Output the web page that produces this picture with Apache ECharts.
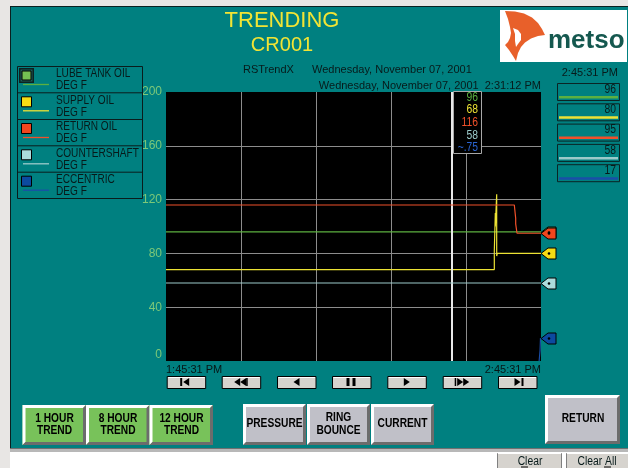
<!DOCTYPE html>
<html><head><meta charset="utf-8">
<script src="https://cdn.jsdelivr.net/npm/echarts@6/dist/echarts.min.js"></script>
<style>html,body{margin:0;padding:0;background:#fff;}#c{width:628px;height:468px;}</style>
</head><body><div id="c"></div>
<script>
// ---------- data ----------
const seriesNames = ['LUBE TANK OIL','SUPPLY OIL','RETURN OIL','COUNTERSHAFT','ECCENTRIC'];
const unitLabel = 'DEG F';
const lineColors = ['#5cb040','#ece234','#f0502a','#9ccaca','#1a4ea8'];
const swatchColors = ['#74c052','#f6dc14','#f0461e','#acdcdc','#0c4aa0'];
// x = minutes after 1:45:31 PM
const lubeTank = [[0,96],[60,96]];
const supplyOil = [[0,68],[52.53,68],[52.53,82],[52.69,110],[52.69,100],[52.91,124],[52.91,78],[53.0,80],[60,80]];
const returnOil = [[0,116],[55.73,116],[55.95,106],[55.95,102],[56.16,101],[56.16,95],[60,95]];
const countershaft = [[0,58],[60,58]];
const eccentric = [[59.7,0],[59.85,8],[59.92,17],[60,17]];
const timeLabels = ['1:45:31 PM','2:45:31 PM'];
const timeSpan = [0,60,12];
const yTicks = [0,40,80,120,160,200];
const cursorTime = 45.68;
const cursorStamp = 'Wednesday, November 07, 2001  2:31:12 PM';
const cursorValues = ['96','68','116','58','~.75'];
const currentValues = [96,80,95,58,17];
const currentTime = '2:45:31 PM';
const titleText = 'TRENDING';
const subTitle = 'CR001';
const headerLeft = 'RSTrendX';
const headerDate = 'Wednesday, November 07, 2001';
const timeButtons = ['1 HOUR\nTREND','8 HOUR\nTREND','12 HOUR\nTREND'];
const viewButtons = ['PRESSURE','RING\nBOUNCE','CURRENT'];

// ---------- chart ----------
const SANS = '"Liberation Sans",Arial,sans-serif';
const chart = echarts.init(document.getElementById('c'), null, {renderer:'canvas'});
const seriesData = [lubeTank, supplyOil, returnOil, countershaft, eccentric];
const drawOrder = [0,3,1,4,2];
chart.setOption({
  backgroundColor:'#008080',
  animation:false,
  grid:{left:166, top:92, width:375, height:269, show:true, backgroundColor:'#000', borderWidth:0},
  xAxis:{type:'value', min:timeSpan[0], max:timeSpan[1], interval:timeSpan[2],
    axisLine:{show:false}, axisTick:{show:false},
    splitLine:{show:true, showMinLine:false, showMaxLine:false, lineStyle:{color:'#8c8c8c', width:1}},
    axisLabel:{formatter:v=> v===timeSpan[0]?timeLabels[0]:(v===timeSpan[1]?timeLabels[1]:''),
      alignMinLabel:'left', alignMaxLabel:'right', margin:3, color:'#061616', fontFamily:'Liberation Sans', fontSize:11}},
  yAxis:{type:'value', min:yTicks[0], max:yTicks[yTicks.length-1], interval:yTicks[1]-yTicks[0],
    axisLine:{show:false}, axisTick:{show:false},
    splitLine:{show:true, showMinLine:false, showMaxLine:false, lineStyle:{color:'#8c8c8c', width:1}},
    axisLabel:{color:'#7cc878', fontFamily:'Liberation Sans', fontSize:12, margin:4, verticalAlignMinLabel:'bottom'}},
  series: drawOrder.map(i=>{
    const s = {type:'line', name:seriesNames[i], data:seriesData[i], showSymbol:false, symbol:'none',
      lineStyle:{color:lineColors[i], width:1.2}, itemStyle:{color:lineColors[i]}, silent:true, z:3+i};
    if(i===0){
      s.markLine = {silent:true, symbol:['none','none'], label:{show:false},
        lineStyle:{color:'#e8e8e8', width:2, type:'solid'}, data:[{xAxis:cursorTime}]};
    }
    return s;
  })
});

// ---------- graphics ----------
const G = [];
function rect(x,y,w,h,fill,stroke,lw,z){G.push({type:'rect',shape:{x:x,y:y,width:w,height:h},style:{fill:fill||'none',stroke:stroke||null,lineWidth:lw||1},z:z||1,silent:true});}
function line(x1,y1,x2,y2,c,lw,z){G.push({type:'line',shape:{x1:x1,y1:y1,x2:x2,y2:y2},style:{stroke:c,lineWidth:lw||1},z:z||1,silent:true});}
function poly(pts,fill,stroke,z){G.push({type:'polygon',shape:{points:pts},style:{fill:fill,stroke:stroke||null,lineWidth:1},z:z||1,silent:true});}
function text(x,y,t,o){
  o = o||{};
  const sx = o.sx||1; delete o.sx;
  const z = o.z||5; delete o.z;
  G.push({type:'text',x:x,y:y,z:z,scaleX:sx,silent:true,style:Object.assign({text:t,fill:'#071a1a',font:'11px '+SANS,textAlign:'left',textVerticalAlign:'middle'},o)});
}
function bevel(x,y,w,h,fill,t){
  rect(x,y,w,h,fill);
  poly([[x,y],[x+w,y],[x+w-t,y+t],[x+t,y+t],[x+t,y+h-t],[x,y+h]],'#ffffff');
  poly([[x+w,y],[x+w,y+h],[x,y+h],[x+t,y+h-t],[x+w-t,y+h-t],[x+w-t,y+t]],'#6c6c6c');
}

// page frame
rect(0,0,10,468,'#e8e6e4',null,1,0);
rect(0,0,628,6,'#e8e6e4',null,1,0);
line(10.5,6,10.5,448,'#0a2020',1);
line(10,6.5,628,6.5,'#0a2020',1);
rect(10,448,618,4,'#b8b8b8');
line(10,448.5,628,448.5,'#707070',1);
rect(10,452,618,16,'#ffffff');

// title
text(282,21,titleText,{fill:'#f2e434',font:'22px '+SANS,textAlign:'center'});
text(282,45,subTitle,{fill:'#f2e434',font:'20px '+SANS,textAlign:'center'});
text(243,70,headerLeft,{});
text(312,70,headerDate,{});
text(541,86,cursorStamp,{textAlign:'right'});

// logo
rect(500,10,127,52,'#ffffff');
poly([[505,11],[515,11.5],[524,13.5],[532,17.5],[538,23],[542,29],[545,35],[538,36],[531,38.5],[525,42.5],[521,47],[518,53],[516,61],[513,56],[509,50],[505,45],[508,42],[510,38],[511,33],[510,27],[508,19]],'#e8602a',null,2);
poly([[513,28],[518,30],[521,34],[521,40],[518,44],[516,47],[515,41],[515,34]],'#ffffff',null,3);
text(548,41,'metso',{fill:'#15584f',font:'bold 26px '+SANS});

// legend
rect(17.5,66.5,125,132,'none','#0a1c1c',1);
const rowTops = [66,92.3,119,145.3,171.7];
for(let i=0;i<5;i++){
  const t = rowTops[i];
  if(i>0) line(17.5,t+0.5,142.5,t+0.5,'#0a1c1c',1);
  if(i===0){
    rect(19,68,15,15,'#0b2222');
    rect(20.5,69.5,12,12,'#1f5a56');
    rect(22,71,9,9,swatchColors[0],'#000',1);
  } else {
    rect(21.5,t+4.5,10,10,swatchColors[i],'#000',1);
  }
  line(23,t+18.5,49,t+18.5,lineColors[i],1.3);
  text(56,t+8,seriesNames[i],{font:'12px '+SANS,sx:0.84});
  text(56,t+20,unitLabel,{font:'12px '+SANS,sx:0.84});
}

// right value boxes
text(618,73,currentTime,{textAlign:'right'});
for(let i=0;i<5;i++){
  const y = 83 + i*20.3;
  rect(557.5,y+0.5,62,17,'#008080','#0a2424',1);
  rect(559,y+13,59,2.5,lineColors[i]);
  text(616,y+6.5,String(currentValues[i]),{font:'12px '+SANS,textAlign:'right',sx:0.86});
}

// nav buttons
const navX = [166.7,221.7,277,332,387.3,442.7,498];
const cy = 382;
function triL(tx,cyy){poly([[tx,cyy],[tx+6,cyy-4],[tx+6,cyy+4]],'#000');}
function triR(tx,cyy){poly([[tx,cyy],[tx-6,cyy-4],[tx-6,cyy+4]],'#000');}
navX.forEach((x,k)=>{
  rect(x+0.5,376.5,38.5,12,'#d6d3ce','#000',1);
  line(x+1.5,377.5,x+38,377.5,'#ffffff',1);
  const c = x+19.5;
  if(k===0){rect(c-6,cy-4,2,8,'#000'); triL(c-3,cy);}
  if(k===1){triL(c-7,cy); triL(c-1,cy); rect(c+5,cy-4,1.5,8,'#000');}
  if(k===2){triL(c-3,cy);}
  if(k===3){rect(c-5,cy-4,3,8,'#000'); rect(c+1,cy-4,3,8,'#000');}
  if(k===4){triR(c+3,cy);}
  if(k===5){triR(c+1,cy); triR(c+7,cy); rect(c-7.5,cy-4,1.5,8,'#000');}
  if(k===6){triR(c+3,cy); rect(c+4,cy-4,2,8,'#000');}
});

// bottom buttons
const greenX = [22.5,86,149.5];
greenX.forEach((x,i)=>{
  bevel(x,405,63.5,40,'#78c25a',3);
  text(x+32,425,timeButtons[i],{font:'bold 12px '+SANS,textAlign:'center',fill:'#000',lineHeight:12,sx:0.85});
});
const grayX = [243,307,371];
grayX.forEach((x,i)=>{
  bevel(x,404,63,41,'#c0c0c8',3);
  text(x+31.5,424,viewButtons[i],{font:'bold 12px '+SANS,textAlign:'center',fill:'#000',lineHeight:13,sx:0.85});
});
bevel(545,395,75,49,'#c0c0c8',3);
text(583,419,'RETURN',{font:'bold 12px '+SANS,textAlign:'center',fill:'#000',sx:0.85});

// clear buttons
rect(497.5,453.5,64,15,'#d6d3ce','#808080',1);
line(498,453.5,561,453.5,'#ffffff',1);
text(530,461.5,'Clear',{textAlign:'center',font:'12px '+SANS,sx:0.86});
line(521,467,528,467,'#000',1);
rect(566.5,453.5,62,15,'#d6d3ce','#808080',1);
line(567,453.5,628,453.5,'#ffffff',1);
text(597,461.5,'Clear All',{textAlign:'center',font:'12px '+SANS,sx:0.86});
line(604,467,611,467,'#000',1);

// cursor box (positioned by axis scale)
const cp = chart.convertToPixel({gridIndex:0},[cursorTime,200]);
const bx = Math.round(cp[0])+1;
rect(bx+0.5,91.5,28,62,'#000','#a8a8a8',1,50);
cursorValues.forEach((v,i)=>{
  text(bx+25,97.5+i*12.6,v,{font:'12px '+SANS,textAlign:'right',fill:i===4?'#2a64d0':lineColors[i],z:55,sx:0.86});
});

// end-value markers
[0,2,1,3,4].forEach(i=>{
  const last = seriesData[i][seriesData[i].length-1];
  const p = chart.convertToPixel({gridIndex:0},last);
  const tx = p[0], ty = Math.round(p[1])+0.5;
  poly([[tx,ty],[tx+7,ty-5.5],[tx+15,ty-5.5],[tx+15,ty+5.5],[tx+7,ty+5.5]],swatchColors[i],'#000',60+i);
  G.push({type:'circle',shape:{cx:tx+8,cy:ty,r:1.3},style:{fill:'#000'},z:70,silent:true});
});

chart.setOption({graphic:{elements:G}});
</script></body></html>
